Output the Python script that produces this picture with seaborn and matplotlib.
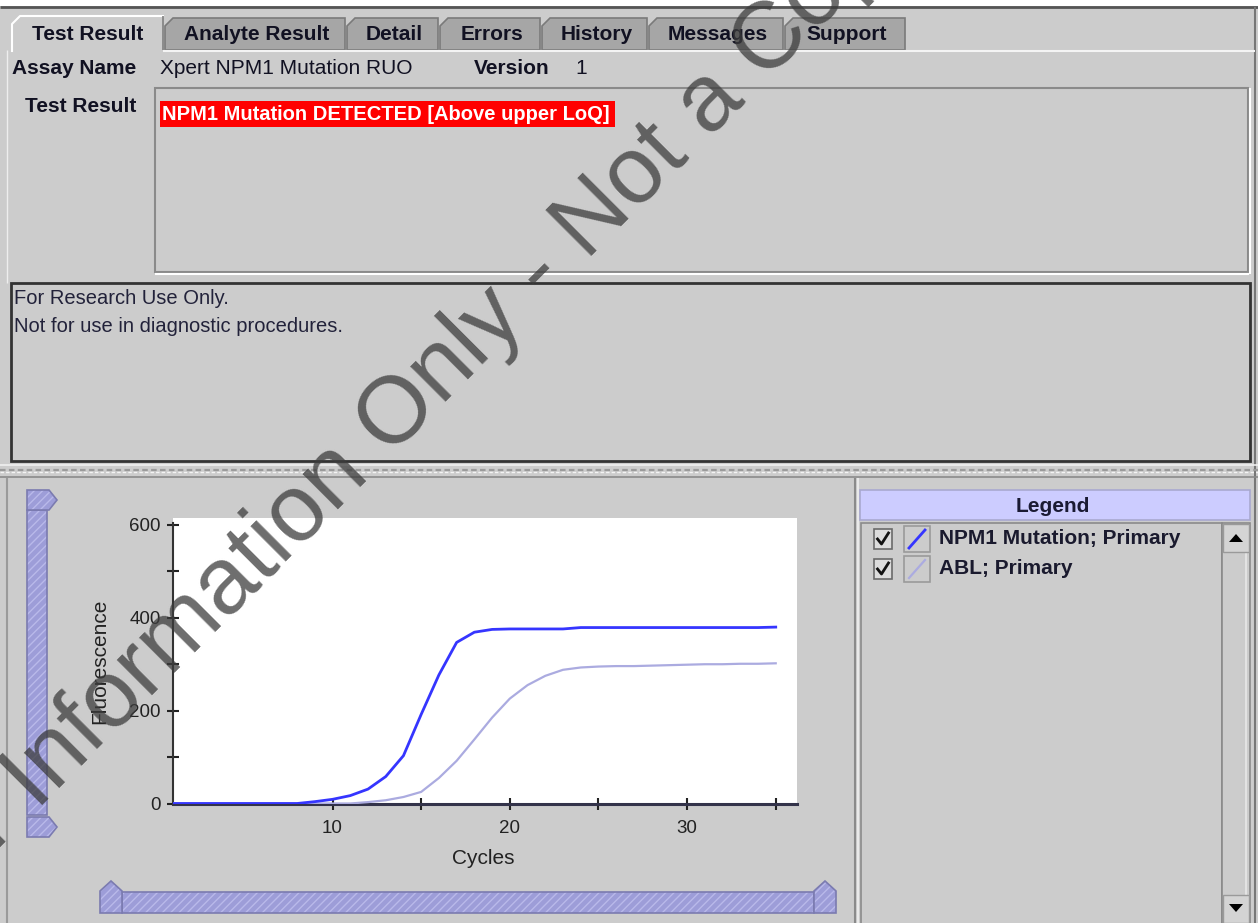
import matplotlib
matplotlib.use("Agg")
import matplotlib.pyplot as plt
import seaborn as sns
import pandas as pd
from matplotlib.patches import Rectangle, Polygon
from matplotlib.ticker import FixedLocator

# ---------------- data ----------------
cycles = [1, 2, 3, 4, 5, 6, 7, 8, 9, 10, 11, 12, 13, 14, 15, 16, 17, 18,
          19, 20, 21, 22, 23, 24, 25, 26, 27, 28, 29, 30, 31, 32, 33, 34, 35]
npm1_values = [0, 0, 0, 0, 0, 0, 0, 0, 4, 9, 17, 31, 58, 103, 192, 277, 347, 369,
               375, 376, 376, 376, 376, 379, 379, 379, 379, 379, 379, 379, 379, 379, 379, 379, 380]
abl_values = [0, 0, 0, 0, 0, 0, 0, 0, 0, 0, 0, 3, 7, 14, 25, 55, 92, 138,
              185, 226, 255, 275, 288, 293, 295, 296, 296, 297, 298, 299, 300, 300, 301, 301, 302]
series_names = ["NPM1 Mutation; Primary", "ABL; Primary"]
x_ticks = [10, 20, 30]
x_minor_ticks = [15, 25, 35]
y_ticks = [0, 200, 400, 600]
y_minor_ticks = [100, 300, 500]
tab_labels = ["Test Result", "Analyte Result", "Detail", "Errors", "History", "Messages", "Support"]
assay_name = "Xpert NPM1 Mutation RUO"
version = "1"
result_text = "NPM1 Mutation DETECTED [Above upper LoQ]"
notice_lines = ["For Research Use Only.", "Not for use in diagnostic procedures."]
watermark = "For Information Only - Not a Copy"

# ---------------- style ----------------
plt.rcParams["font.family"] = ["Liberation Sans", "DejaVu Sans"]
plt.rcParams["hatch.linewidth"] = 1.0
BG = "#cccccc"
TXT = "#111122"
LINE_COLORS = {series_names[0]: "#3535ff", series_names[1]: "#ababe0"}
LINE_WIDTHS = {series_names[0]: 2.0, series_names[1]: 1.6}
BAR_FC = "#9d9dd8"
BAR_HATCH = "#b9b9ea"
BAR_EC = "#7b7bb0"

W, H = 1258, 923
fig = plt.figure(figsize=(W / 100, H / 100), dpi=100, facecolor=BG)
ui = fig.add_axes([0, 0, 1, 1])
ui.set_xlim(0, W)
ui.set_ylim(H, 0)
ui.axis("off")
ui.set_zorder(0)


def rect(x0, y0, x1, y1, fc, ec="none", lw=1.0, z=1, **kw):
    ui.add_patch(Rectangle((x0, y0), x1 - x0, y1 - y0, facecolor=fc,
                           edgecolor=ec, linewidth=lw, zorder=z, **kw))


def hline(y, x0, x1, color, lw=1.0, z=2, **kw):
    ui.plot([x0, x1], [y, y], color=color, lw=lw, zorder=z, solid_capstyle="butt", **kw)


def vline(x, y0, y1, color, lw=1.0, z=2, **kw):
    ui.plot([x, x], [y0, y1], color=color, lw=lw, zorder=z, solid_capstyle="butt", **kw)


def txt(x, y, s, size=15, weight="normal", color=TXT, ha="left", va="center", z=5):
    ui.text(x, y, s, fontsize=size, fontweight=weight, color=color, ha=ha, va=va, zorder=z)


# window frame
rect(0, 0, W, 6, "white", z=1)
hline(6.5, 0, W, "#555555", lw=2)
vline(1255, 7, H, "#777777", lw=1.5)
vline(7, 50, 283, "#eeeeee", lw=1)

# tabs
tab_spans = [(12, 163), (163, 345), (345, 438), (438, 540), (540, 647), (647, 783), (783, 905)]
for i, (label, (x0, x1)) in enumerate(zip(tab_labels, tab_spans)):
    if i == 0:
        continue
    ui.add_patch(Polygon([(x0 + 2, 50), (x0 + 2, 26), (x0 + 10, 18), (x1, 18), (x1, 50)],
                         closed=True, facecolor="#a6a6a6", edgecolor="#7a7a7a", lw=1.2, zorder=2))
    txt((x0 + x1) / 2 + 3, 34, label, weight="bold", ha="center")
x0, x1 = tab_spans[0]
ui.add_patch(Polygon([(x0, 51), (x0, 24), (x0 + 8, 16), (x1, 16), (x1, 51)],
                     closed=True, facecolor=BG, edgecolor="none", zorder=3))
ui.plot([x0, x0, x0 + 8, x1], [51, 24, 16, 16], color="white", lw=1.5, zorder=4)
vline(x1, 16, 50, "#808080", lw=1.2, z=4)
txt((x0 + x1) / 2, 34, tab_labels[0], weight="bold", ha="center")
hline(50.5, x1, 1255, "#f4f4f4", lw=1.5)

# assay row
txt(12, 68, "Assay Name", weight="bold")
txt(160, 68, assay_name)
txt(474, 68, "Version", weight="bold")
txt(575, 68, version)

# test result box
txt(25, 106, "Test Result", weight="bold")
rect(155, 88, 1248, 272, BG, ec="#8a8a8a", lw=1.5, z=2)
hline(273.5, 155, 1249, "white", lw=1.5)
vline(1249.5, 88, 274, "white", lw=1.5)
rect(160, 101, 615, 127, "#ff0000", z=3)
txt(162, 114, result_text, size=14.5, weight="bold", color="white")

# notice box
rect(11, 283, 1250, 461, BG, ec="#333333", lw=2, z=2)
txt(14, 298, notice_lines[0], size=14.5, color="#22223a")
txt(14, 327, notice_lines[1], size=14.5, color="#22223a")

# splitter
hline(464.5, 0, W, "#f0f0f0", lw=1.2)
hline(470, 0, W, "#9a9a9a", lw=1.6, linestyle=(0, (2.5, 1.5)))
hline(472, 0, W, "#f4f4f4", lw=1, linestyle=(0, (2.5, 1.5)))
hline(476.5, 0, W, "#8a8a8a", lw=1.2)
vline(7, 478, H, "#9a9a9a", lw=1.5)

# divider between chart and legend
vline(854.5, 478, H, "#8a8a8a", lw=1.5)
vline(858, 478, H, "#f0f0f0", lw=1.2)

# legend panel
rect(860, 490, 1250, 520, "#ccccff", ec="#a8a8d0", lw=1.2, z=2)
txt(1053, 506, "Legend", weight="bold", ha="center", color="#1a1a33")
rect(861, 523, 1222, H + 5, BG, ec="#8a8a8a", lw=1.2, z=2)
rect(1222, 523, 1250, H + 5, BG, ec="#8a8a8a", lw=1.2, z=2)
vline(1246, 552, 895, "#e8e8e8", lw=1.2, z=3)
rect(1223, 524, 1249, 552, "#d4d4d4", ec="#9a9a9a", lw=1, z=3)
ui.add_patch(Polygon([(1229, 542), (1243, 542), (1236, 534)], closed=True, fc="black", zorder=4))
rect(1223, 895, 1249, 923, "#d4d4d4", ec="#9a9a9a", lw=1, z=3)
ui.add_patch(Polygon([(1229, 904), (1243, 904), (1236, 912)], closed=True, fc="black", zorder=4))

for k, name in enumerate(series_names):
    yc = 539 + 30 * k
    rect(874, yc - 10, 892, yc + 10, "#dcdcdc", ec="#6a6a6a", lw=1.2, z=3)
    ui.plot([877.5, 881.5, 888.5], [yc, yc + 5, yc - 6], color="#111111", lw=2, zorder=4)
    rect(904, yc - 13, 930, yc + 13, BG, ec="#9a9a9a", lw=1.2, z=3)
    ui.plot([909, 925], [yc + 9, yc - 9], color=LINE_COLORS[name], lw=LINE_WIDTHS[name], zorder=4)
    txt(939, yc, name, weight="bold", color="#1a1a2e")


# scrollbars of the chart
def bar_patch(pts):
    ui.add_patch(Polygon(pts, closed=True, facecolor=BAR_FC, edgecolor=BAR_HATCH,
                         hatch="////", lw=0, zorder=3))
    ui.add_patch(Polygon(pts, closed=True, facecolor="none", edgecolor=BAR_EC, lw=1.2, zorder=3))


bar_patch([(27, 510), (47, 510), (47, 815), (27, 815)])
bar_patch([(27, 490), (49, 490), (57, 500), (49, 510), (27, 510)])
bar_patch([(27, 817), (49, 817), (57, 827), (49, 837), (27, 837)])
bar_patch([(122, 892), (814, 892), (814, 913), (122, 913)])
bar_patch([(100, 913), (100, 891), (111, 881), (122, 891), (122, 913)])
bar_patch([(814, 913), (814, 891), (825, 881), (836, 891), (836, 913)])

# ---------------- chart ----------------
ax_l, ax_r, ax_t, ax_b = 173, 797, 518, 803.5
ax = fig.add_axes([ax_l / W, 1 - ax_b / H, (ax_r - ax_l) / W, (ax_b - ax_t) / H])
ax.set_zorder(1)
ax.set_facecolor("white")

df = pd.DataFrame({
    "Cycles": cycles * 2,
    "Fluorescence": abl_values + npm1_values,
    "Series": [series_names[1]] * len(cycles) + [series_names[0]] * len(cycles),
})
for name in [series_names[1], series_names[0]]:
    sns.lineplot(data=df[df["Series"] == name], x="Cycles", y="Fluorescence",
                 color=LINE_COLORS[name], linewidth=LINE_WIDTHS[name], ax=ax,
                 legend=False, zorder=3)

ax.set_xlim(1, 36.2)
ax.set_ylim(0, 615)
ax.set_xticks(x_ticks)
ax.set_yticks(y_ticks)
ax.xaxis.set_minor_locator(FixedLocator(x_minor_ticks))
ax.yaxis.set_minor_locator(FixedLocator(y_minor_ticks))
for s in ["top", "right"]:
    ax.spines[s].set_visible(False)
ax.spines["left"].set_color("#333333")
ax.spines["left"].set_linewidth(1.5)
ax.spines["bottom"].set_color("#33334a")
ax.spines["bottom"].set_linewidth(2.2)
ax.spines["left"].set_bounds(0, 605)
ax.tick_params(which="both", direction="inout", length=8, width=1.5, color="#222222",
               labelsize=13.5, labelcolor="#222222")
ax.tick_params(axis="x", pad=8)
ax.tick_params(axis="y", pad=5)
ax.set_xlabel("Cycles", fontsize=15, color="#222222")
ax.set_ylabel("Fluorescence", fontsize=15, color="#222222")
ax.xaxis.set_label_coords((483 - ax_l) / (ax_r - ax_l), -(849 - ax_b) / (ax_b - ax_t))
ax.yaxis.set_label_coords(-(ax_l - 109) / (ax_r - ax_l), (ax_b - 661) / (ax_b - ax_t))
ax.grid(False)

# ---------------- watermark ----------------
wm_x, wm_y = -82, 930
fig.text(wm_x / W, 1 - wm_y / H, watermark, rotation=45, rotation_mode="anchor",
         ha="left", va="baseline", fontsize=68, color="#3c3c3c", alpha=0.75, zorder=20)

fig.savefig("out.png", dpi=100, facecolor=BG)
